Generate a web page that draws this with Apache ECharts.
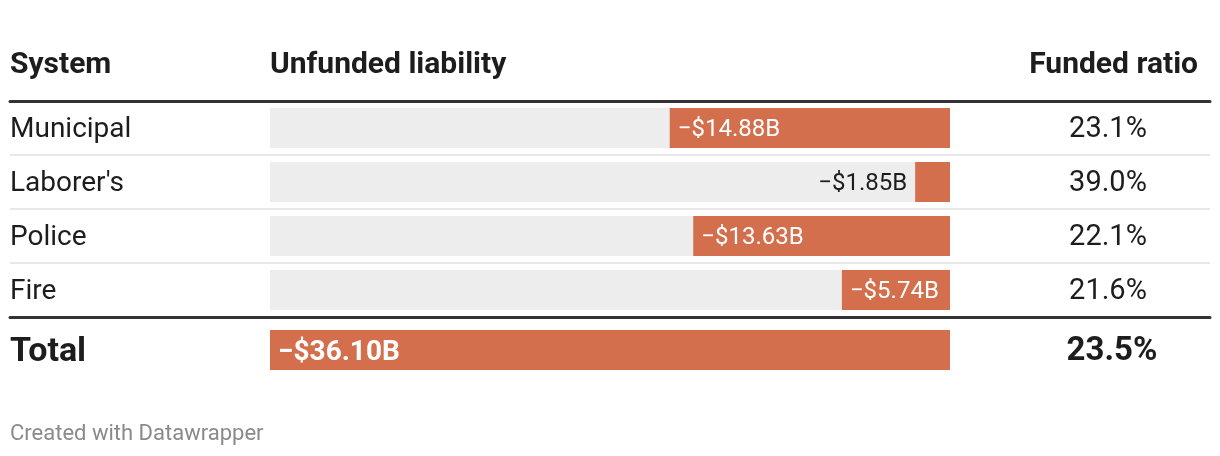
<!DOCTYPE html>
<html><head><meta charset="utf-8">
<script src="https://cdn.jsdelivr.net/npm/echarts@6/dist/echarts.min.js"></script>
<style>html,body{margin:0;padding:0;background:#fff}#c{width:1220px;height:456px}</style>
</head><body><div id="c"></div>
<script>
const systems = ["Municipal", "Laborer's", "Police", "Fire"];
const unfunded = [14.88, 1.85, 13.63, 5.74];
const fundedRatio = [23.1, 39.0, 22.1, 21.6];
const totalName = ["Total"];
const totalUnfunded = [36.10];
const totalRatio = [23.5];
const headers = ["System", "Unfunded liability", "Funded ratio"];
const footer = "Created with Datawrapper";

const FONT = 'Roboto';
const ORANGE = '#d36f4c';
const TXT = '#1d1d1d';
const fmtMoney = v => '\u2212$' + v.toFixed(2) + 'B';
const fmtPct = v => v.toFixed(1) + '%';
const maxV = totalUnfunded[0];

const chart = echarts.init(document.getElementById('c'), null, {renderer: 'canvas'});

const rowData = unfunded.map(v => {
  const wide = v / maxV * 680 > 80;
  return {
    value: v,
    label: wide
      ? {position: 'insideLeft', distance: 8, color: '#fff'}
      : {position: 'left', distance: 8, color: TXT}
  };
});

const headStyle = {fontFamily: FONT, fontSize: 30, fontWeight: 'bold', color: TXT};
const noAxisBits = {axisLine: {show: false}, axisTick: {show: false}, splitLine: {show: false}};

chart.setOption({
  animation: false,
  title: [
    {text: headers[0], left: 10, top: 50, padding: 0, textStyle: headStyle},
    {text: headers[1], left: 270, top: 50, padding: 0, textStyle: headStyle},
    {text: headers[2], right: 22, top: 50, padding: 0, textStyle: headStyle},
    {text: footer, left: 10, top: 423, padding: 0, textStyle: {fontFamily: FONT, fontSize: 22, fontWeight: 'normal', color: '#8a8a8a'}}
  ],
  grid: [
    {left: 270, width: 680, top: 101, height: 216},   // 0 row bars
    {left: 270, width: 680, top: 320, height: 60},    // 1 total bar
    {left: 10, width: 1200, top: 101, height: 216},   // 2 rules
    {left: 10, width: 1200, top: 103, height: 216},   // 3 row text
    {left: 10, width: 1200, top: 322, height: 60}     // 4 total text
  ],
  xAxis: [
    {gridIndex: 0, type: 'value', min: 0, max: maxV, inverse: true, show: false},
    {gridIndex: 1, type: 'value', min: 0, max: maxV, inverse: true, show: false},
    {gridIndex: 2, type: 'value', position: 'top', z: 10, axisLine: {show: true, onZero: false, lineStyle: {color: '#333', width: 3}}, axisTick: {show: false}, axisLabel: {show: false}, splitLine: {show: false}},
    {gridIndex: 2, type: 'value', position: 'bottom', z: 10, axisLine: {show: true, onZero: false, lineStyle: {color: '#333', width: 3}}, axisTick: {show: false}, axisLabel: {show: false}, splitLine: {show: false}},
    {gridIndex: 3, type: 'value', show: false},
    {gridIndex: 4, type: 'value', show: false}
  ],
  yAxis: [
    {gridIndex: 0, type: 'category', data: systems, inverse: true, show: false},
    {gridIndex: 1, type: 'category', data: totalName, inverse: true, show: false},
    {gridIndex: 2, type: 'category', data: systems, inverse: true, position: 'left',
      axisLine: {show: false}, axisTick: {show: false}, axisLabel: {show: false},
      splitLine: {show: true, interval: 0, lineStyle: {color: '#e8e8e8', width: 2}}},
    Object.assign({gridIndex: 3, type: 'category', data: systems, inverse: true, position: 'left',
      axisLabel: {inside: true, margin: 0, fontFamily: FONT, fontSize: 28, color: TXT}}, noAxisBits),
    Object.assign({gridIndex: 3, type: 'category', data: fundedRatio.map(fmtPct), inverse: true, position: 'right',
      axisLabel: {inside: true, margin: 102, align: 'center', fontFamily: FONT, fontSize: 29, color: TXT}}, noAxisBits),
    Object.assign({gridIndex: 4, type: 'category', data: totalName, inverse: true, position: 'left',
      axisLabel: {inside: true, margin: 0, fontFamily: FONT, fontSize: 34, fontWeight: 'bold', color: TXT}}, noAxisBits),
    Object.assign({gridIndex: 4, type: 'category', data: totalRatio.map(fmtPct), inverse: true, position: 'right',
      axisLabel: {inside: true, margin: 98, align: 'center', fontFamily: FONT, fontSize: 33, fontWeight: 'bold', color: TXT}}, noAxisBits)
  ],
  series: [
    {type: 'bar', xAxisIndex: 0, yAxisIndex: 0, data: rowData, barWidth: 40,
      itemStyle: {color: ORANGE},
      showBackground: true, backgroundStyle: {color: '#ededed'},
      label: {show: true, offset: [0, 2], fontFamily: FONT, fontSize: 24, formatter: p => fmtMoney(p.value)}},
    {type: 'bar', xAxisIndex: 1, yAxisIndex: 1, data: totalUnfunded, barWidth: 40,
      itemStyle: {color: ORANGE},
      label: {show: true, position: 'insideLeft', distance: 8, offset: [0, 3], color: '#fff', fontFamily: FONT, fontSize: 28, fontWeight: 'bold', formatter: p => fmtMoney(p.value)}}
  ]
});
</script></body></html>
